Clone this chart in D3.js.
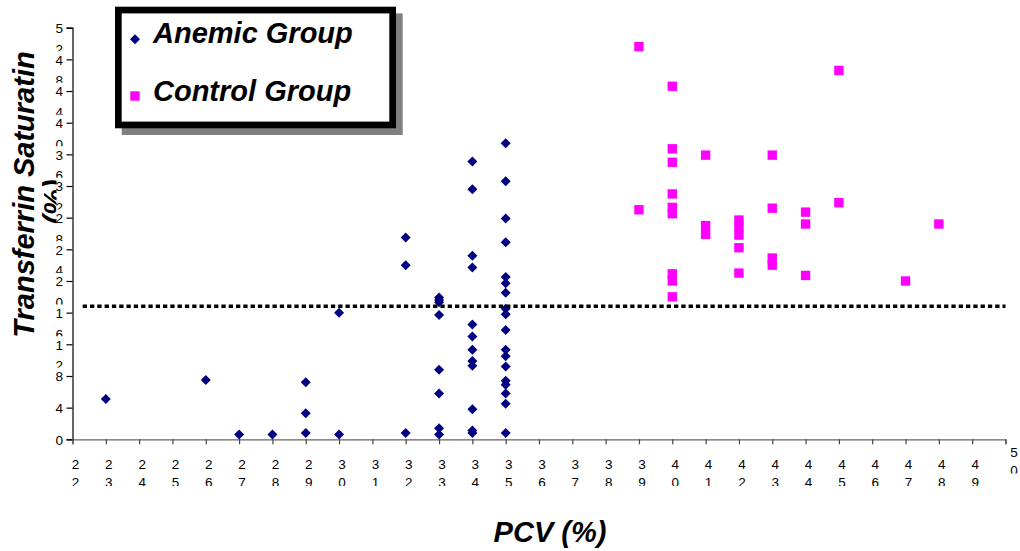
<!DOCTYPE html>
<html>
<head>
<meta charset="utf-8">
<script src="https://cdn.jsdelivr.net/npm/d3@7/dist/d3.min.js"></script>
<style>
  html, body { margin: 0; padding: 0; background: #fff; }
  svg { display: block; font-family: "Liberation Sans", Arial, sans-serif; }
</style>
</head>
<body>
<svg id="chart" width="1020" height="551"></svg>
<script>
// ---- data ----
const xTickValues = [22,23,24,25,26,27,28,29,30,31,32,33,34,35,36,37,38,39,40,41,42,43,44,45,46,47,48,49,50];
const yTickValues = [0,4,8,12,16,20,24,28,32,36,40,44,48,52];

const anemicPCV = [23, 26, 27, 28, 29, 29, 29, 30, 30, 32, 32, 32,
  33, 33, 33, 33, 33, 33, 33, 33,
  34, 34, 34, 34, 34, 34, 34, 34, 34, 34, 34, 34,
  35, 35, 35, 35, 35, 35, 35, 35, 35, 35, 35, 35, 35, 35, 35, 35, 35, 35];
const anemicTS = [5.1, 7.5, 0.6, 0.6, 7.2, 3.3, 0.8, 16.0, 0.6, 25.5, 22.0, 0.8,
  17.9, 17.6, 17.3, 15.7, 8.8, 5.8, 1.4, 0.6,
  35.1, 31.6, 23.2, 21.7, 14.5, 13.0, 11.3, 9.9, 9.3, 3.8, 1.1, 0.8,
  37.4, 32.6, 27.9, 24.9, 20.5, 19.7, 18.5, 16.5, 15.8, 13.8, 11.3, 10.5, 9.2, 7.4, 6.9, 5.8, 4.5, 0.8];

const controlPCV = [39, 39,
  40, 40, 40, 40, 40, 40, 40, 40, 40,
  41, 41, 41,
  42, 42, 42, 42, 42,
  43, 43, 43, 43,
  44, 44, 44,
  45, 45, 47, 48];
const controlTS = [49.6, 29.0,
  44.6, 36.7, 35.0, 31.0, 29.3, 28.5, 20.9, 20.0, 18.0,
  35.9, 27.0, 25.9,
  27.7, 26.8, 25.8, 24.2, 21.0,
  35.9, 29.2, 22.9, 22.0,
  28.7, 27.2, 20.7,
  46.6, 29.9, 20.0, 27.2];

const thresholdTS = 16.8;
const seriesNames = ["Anemic Group", "Control Group"];
const xTitle = "PCV (%)";
const yTitle = ["Transferrin Saturatin", "(%)"];

// ---- drawing ----
const svg = d3.select("#chart");
const FONT = '"Liberation Sans", Arial, sans-serif';
const navy = "#000080", magenta = "#FF00FF";

const x = d3.scaleLinear().domain([22, 50]).range([72.5, 1005.5]);
const y = d3.scaleLinear().domain([0, 52]).range([439.3, 27.7]);

const defs = svg.append("defs");

// y axis
const yAxis = d3.axisLeft(y).tickValues(yTickValues).tickSize(6).tickFormat("");
const gy = svg.append("g").attr("transform", `translate(${x(22)},0)`).call(yAxis);
gy.select(".domain").attr("stroke", "#000").attr("stroke-width", 1.2);
gy.selectAll(".tick line").attr("stroke", "#000").attr("stroke-width", 1.2);

// x axis
const xAxis = d3.axisBottom(x).tickValues(xTickValues).tickSize(5).tickSizeOuter(5).tickFormat("");
const gx = svg.append("g").attr("transform", `translate(0,${y(0)})`).call(xAxis);
gx.select(".domain").attr("stroke", "#666").attr("stroke-width", 1.2);
gx.selectAll(".tick line").attr("stroke", "#444").attr("stroke-width", 1.2);

// y tick labels (two stacked digits, second line clipped)
yTickValues.forEach((v, i) => {
  const s = String(v);
  const ty = y(v);
  const id = "ycl" + i;
  defs.append("clipPath").attr("id", id).append("rect")
    .attr("x", 40).attr("y", ty - 12).attr("width", 26).attr("height", 35.5);
  const t = svg.append("text").attr("clip-path", `url(#${id})`)
    .attr("font-family", FONT).attr("font-size", 13.5).attr("fill", "#000")
    .attr("text-anchor", "middle");
  t.append("tspan").attr("x", 59.3).attr("y", ty + 5.2).text(s[0]);
  if (s.length > 1) t.append("tspan").attr("x", 59.3).attr("y", ty + 26).text(s[1]);
});

// x tick labels
xTickValues.forEach((v, i) => {
  const s = String(v);
  const last = i === xTickValues.length - 1;
  const tx = x(v) + (last ? 8.5 : 3);
  const b1 = last ? 457.3 : 469.3;
  const clipBottom = last ? 473.5 : 486;
  const id = "xcl" + i;
  defs.append("clipPath").attr("id", id).append("rect")
    .attr("x", tx - 10).attr("y", b1 - 14).attr("width", 20).attr("height", clipBottom - (b1 - 14));
  const t = svg.append("text").attr("clip-path", `url(#${id})`)
    .attr("font-family", FONT).attr("font-size", 13.5).attr("fill", "#000")
    .attr("text-anchor", "middle");
  t.append("tspan").attr("x", tx).attr("y", b1).text(s[0]);
  t.append("tspan").attr("x", tx).attr("y", b1 + 17.7).text(s[1]);
});

// markers
const diamond = d3.symbol().type(d3.symbolSquare).size(50);
const square = d3.symbol().type(d3.symbolSquare).size(88);

svg.append("g").selectAll("path").data(anemicPCV.map((p, i) => [p, anemicTS[i]]))
  .join("path")
  .attr("d", diamond)
  .attr("transform", d => `translate(${x(d[0])},${y(d[1])}) rotate(45)`)
  .attr("fill", navy);

svg.append("g").selectAll("path").data(controlPCV.map((p, i) => [p, controlTS[i]]))
  .join("path")
  .attr("d", square)
  .attr("transform", d => `translate(${x(d[0])},${y(d[1])})`)
  .attr("fill", magenta);

// threshold dotted line
svg.append("line")
  .attr("x1", 82.7).attr("x2", x(50))
  .attr("y1", y(thresholdTS)).attr("y2", y(thresholdTS))
  .attr("stroke", "#000").attr("stroke-width", 3.6)
  .attr("stroke-dasharray", "4.3,3");

// axis titles
svg.append("text")
  .attr("transform", `translate(${x(36) + 11},541.7)`)
  .attr("text-anchor", "middle")
  .attr("font-family", FONT).attr("font-size", 29)
  .attr("font-weight", "bold").attr("font-style", "italic")
  .text(xTitle);

svg.append("text")
  .attr("transform", "translate(34,194.5) rotate(-90)")
  .attr("text-anchor", "middle")
  .attr("font-family", FONT).attr("font-size", 29)
  .attr("font-weight", "bold").attr("font-style", "italic")
  .text(yTitle[0]);

defs.append("clipPath").attr("id", "ytclip").append("rect")
  .attr("x", 30).attr("y", 150).attr("width", 26.5).attr("height", 100);
svg.append("g").attr("clip-path", "url(#ytclip)")
  .append("text")
  .attr("transform", "translate(64,202) rotate(-90)")
  .attr("text-anchor", "middle")
  .attr("font-family", FONT).attr("font-size", 29)
  .attr("font-weight", "bold").attr("font-style", "italic")
  .text(yTitle[1]);

// legend
const lg = svg.append("g");
lg.append("rect").attr("x", 121.7).attr("y", 13.4).attr("width", 281).attr("height", 121.6).attr("fill", "#808080");
lg.append("rect").attr("x", 118.35).attr("y", 10.05).attr("width", 274.3).attr("height", 114.9)
  .attr("fill", "#fff").attr("stroke", "#000").attr("stroke-width", 6.7);
lg.append("path").attr("d", diamond).attr("transform", "translate(135,39.3) rotate(45)").attr("fill", navy);
lg.append("path").attr("d", square).attr("transform", "translate(135,96)").attr("fill", magenta);
[[seriesNames[0], 43], [seriesNames[1], 100.5]].forEach(([name, by]) => {
  lg.append("text").attr("x", 153).attr("y", by)
    .attr("font-family", FONT).attr("font-size", 29)
    .attr("font-weight", "bold").attr("font-style", "italic")
    .text(name);
});
</script>
</body>
</html>
